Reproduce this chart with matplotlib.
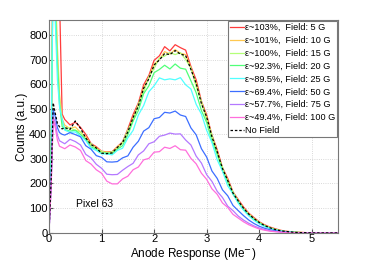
import matplotlib
matplotlib.use("Agg")
import matplotlib.pyplot as plt

plt.rcParams['font.family'] = ['Liberation Sans', 'DejaVu Sans']

# x grid (Me-)
x = [0.0, 0.04, 0.08, 0.12, 0.16, 0.2, 0.25,
     0.3, 0.4, 0.5, 0.6, 0.7, 0.8, 0.9, 1.0, 1.1, 1.2, 1.3, 1.4,
     1.5, 1.6, 1.7, 1.8, 1.9, 2.0, 2.1, 2.2, 2.3, 2.4, 2.5, 2.6, 2.7, 2.8, 2.9, 3.0,
     3.1, 3.2, 3.3, 3.4, 3.5,
     3.6, 3.7, 3.8, 3.9, 4.0, 4.1, 4.2, 4.3, 4.4, 4.5, 4.6, 4.7, 4.8, 4.9, 5.0,
     5.1, 5.2, 5.3, 5.4, 5.5]

red = [0, 300, 1200, 1200, 1100, 950, 480,
       458, 436, 447, 426, 398, 361, 348, 330, 327, 328, 348, 368,
       420, 478, 525, 598, 636, 697, 715, 752, 735, 760, 748, 738, 672, 618, 532, 476,
       395, 336, 264, 220, 166,
       135, 105, 80, 62, 45, 33, 24, 17, 11, 7, 5, 3, 2, 1, 1,
       0, 0, 0, 0, 0]
orange = [0, 300, 1200, 1000, 750, 560, 460,
          435, 421, 428, 406, 388, 356, 345, 327, 327, 325, 348, 364,
          410, 468, 515, 586, 626, 682, 700, 732, 722, 740, 725, 720, 664, 606, 524, 470,
          390, 330, 260, 214, 162,
          130, 100, 77, 59, 43, 31, 22, 15, 10, 6, 4, 3, 2, 1, 0,
          0, 0, 0, 0, 0]
ygreen = [0, 300, 1150, 950, 700, 540, 445,
          425, 424, 414, 408, 376, 361, 337, 331, 319, 328, 337, 366,
          415, 452, 520, 568, 630, 664, 706, 714, 728, 720, 728, 700, 666, 590, 530, 455,
          395, 316, 266, 203, 166,
          128, 98, 75, 57, 42, 30, 21, 14, 9, 6, 4, 2, 1, 1, 0,
          0, 0, 0, 0, 0]
green = [0, 300, 1100, 900, 680, 520, 430,
         418, 411, 415, 397, 378, 347, 338, 322, 323, 319, 338, 352,
         396, 452, 494, 562, 594, 647, 660, 677, 662, 682, 665, 661, 614, 566, 494, 446,
         370, 318, 250, 207, 156,
         124, 95, 72, 54, 40, 28, 19, 13, 8, 5, 3, 2, 1, 1, 0,
         0, 0, 0, 0, 0]
cyan = [0, 300, 1100, 850, 620, 510, 460,
        415, 406, 408, 391, 373, 342, 333, 319, 319, 315, 333, 342,
        384, 414, 476, 514, 570, 594, 626, 618, 622, 618, 627, 598, 581, 519, 480, 414,
        365, 295, 250, 190, 158,
        120, 92, 69, 51, 37, 26, 18, 12, 8, 5, 3, 2, 1, 0, 0,
        0, 0, 0, 0, 0]
blue = [0, 200, 497, 470, 425, 405, 398,
        395, 405, 397, 388, 352, 338, 312, 305, 287, 286, 288, 303,
        311, 346, 370, 411, 425, 461, 466, 487, 484, 492, 476, 470, 424, 396, 340, 306,
        250, 220, 174, 150, 111,
        90, 70, 52, 38, 27, 19, 13, 9, 6, 4, 2, 1, 1, 0, 0,
        0, 0, 0, 0, 0]
purple = [0, 190, 470, 445, 395, 372, 366,
          360, 378, 369, 355, 317, 303, 277, 261, 237, 235, 236, 253,
          268, 281, 315, 331, 360, 368, 390, 395, 403, 399, 400, 375, 355, 310, 282, 235,
          208, 168, 143, 108, 90,
          68, 52, 39, 28, 20, 14, 9, 6, 4, 2, 1, 1, 0, 0, 0,
          0, 0, 0, 0, 0]
magenta = [0, 180, 460, 425, 375, 350, 345,
           340, 355, 347, 333, 292, 278, 255, 241, 209, 198, 198, 218,
           229, 255, 266, 295, 301, 326, 328, 346, 341, 352, 336, 334, 301, 279, 241, 216,
           178, 156, 121, 103, 75,
           60, 45, 33, 24, 16, 11, 7, 5, 3, 2, 1, 1, 0, 0, 0,
           0, 0, 0, 0, 0]
nofield = [0, 210, 525, 482, 442, 428, 420,
           425, 418, 452, 422, 383, 357, 343, 322, 320, 323, 345, 365,
           408, 466, 512, 584, 622, 678, 698, 724, 720, 736, 722, 716, 660, 604, 522, 468,
           388, 328, 260, 212, 161,
           129, 100, 76, 58, 42, 30, 21, 14, 9, 6, 4, 2, 1, 1, 0,
           0, 0, 0, 0, 0]

series = [red, orange, ygreen, green, cyan, blue, purple, magenta]
labels = ["ε~103%,  Field: 5 G", "ε~101%,  Field: 10 G", "ε~100%,  Field: 15 G",
          "ε~92.3%, Field: 20 G", "ε~89.5%, Field: 25 G", "ε~69.4%, Field: 50 G",
          "ε~57.7%, Field: 75 G", "ε~49.4%, Field: 100 G"]
colors = ["#ff3c3c", "#ffc850", "#b4ff78", "#50ff78", "#50ffff",
          "#3c6eff", "#b478ff", "#ff6edc"]

fig = plt.figure(figsize=(3.74, 2.62), dpi=100)
ax = fig.add_axes([0.131, 0.111, 0.773, 0.813])

for ys, lab, c in zip(series, labels, colors):
    ax.plot(x, ys, color=c, lw=0.9, label=lab)
ax.plot(x, nofield, color='black', lw=0.9, ls=(0, (2, 1.5)), label="No Field")

ax.set_xlim(0, 5.5)
ax.set_ylim(0, 860)
ax.set_xticks([0, 1, 2, 3, 4, 5])
ax.set_yticks(range(0, 900, 100))
ax.tick_params(direction='in', labelsize=8, length=3, color='#555555', pad=1)
for s in ax.spines.values():
    s.set_color('#777777')
    s.set_linewidth(0.8)
ax.grid(True, ls=':', color='#cccccc', lw=0.6)
ax.set_axisbelow(True)

ax.set_xlabel("Anode Response (Me$^{-}$)", fontsize=8.5, labelpad=1)
ax.set_ylabel("Counts (a.u.)", fontsize=8.5, labelpad=1)
ax.text(0.87, 117, "Pixel 63", fontsize=7.5, ha='center', va='center')

leg = ax.legend(loc='upper right', fontsize=6.6, handlelength=1.5, handletextpad=0.1,
                borderpad=0.25, labelspacing=0.42, borderaxespad=0.1,
                fancybox=False, framealpha=1, edgecolor='#777777')
leg.get_frame().set_linewidth(0.8)

fig.savefig("out.png", dpi=100)
